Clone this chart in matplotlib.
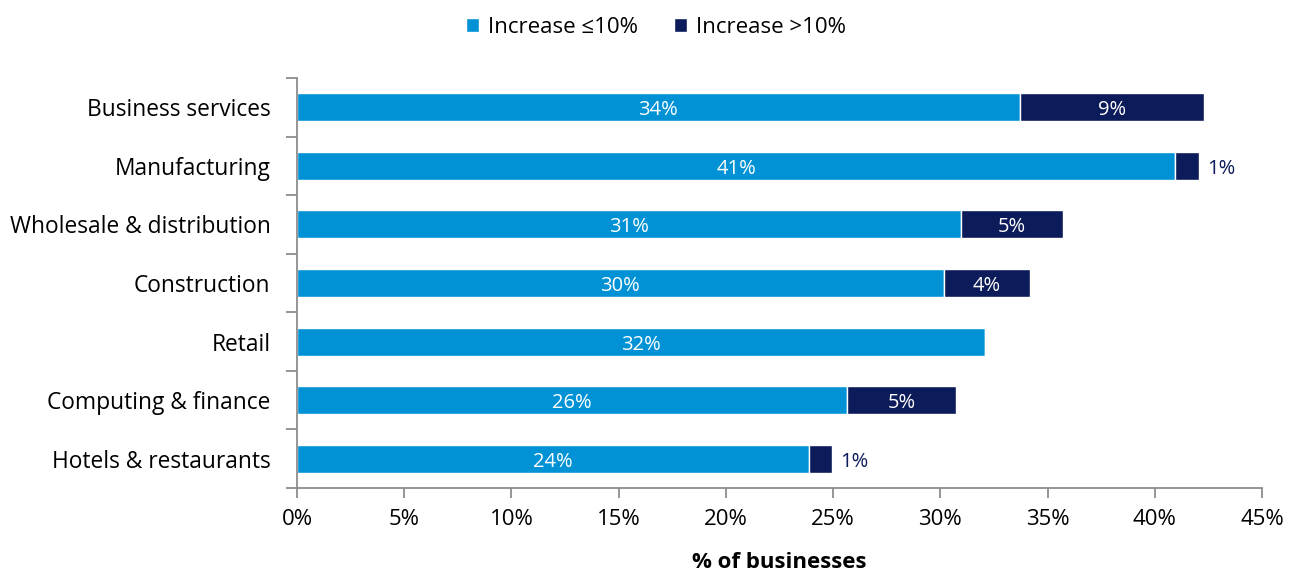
import numpy as np
import matplotlib.pyplot as plt
from matplotlib.ticker import FuncFormatter, FixedLocator

plt.rcParams['font.family'] = ['Open Sans', 'DejaVu Sans']

sectors = ['Business services', 'Manufacturing', 'Wholesale & distribution',
           'Construction', 'Retail', 'Computing & finance', 'Hotels & restaurants']
low_rise = [33.7, 40.95, 30.95, 30.15, 32.1, 25.65, 23.9]   # increase <=10%
high_rise = [8.6, 1.1, 4.75, 4.05, 0.0, 5.1, 1.05]          # increase >10%

light = '#0092D5'
navy = '#0C1B5A'
grey = '#8C8C8C'

fig = plt.figure(figsize=(12.99, 5.74), dpi=100)
ax = fig.add_axes([0.2286, 0.1498, 0.7429, 0.7143])

y = np.arange(len(sectors))
h = 0.48
b1 = ax.barh(y, low_rise, height=h, color=light, edgecolor='white', linewidth=1,
             label='Increase \u226410%')
b2 = ax.barh(y, high_rise, height=h, left=low_rise, color=navy, edgecolor='white',
             linewidth=1, label='Increase >10%')

# value labels: inside the segment, or just past the bar end when it is too thin
for i in range(len(sectors)):
    ty = y[i] + 0.05
    ax.text(low_rise[i] / 2, ty, f'{round(low_rise[i]):.0f}%', color='white',
            ha='center', va='center', fontsize=14.5)
    if high_rise[i] <= 0:
        continue
    if high_rise[i] < 2:
        ax.text(low_rise[i] + high_rise[i] + 0.4, ty, f'{round(high_rise[i]):.0f}%',
                color=navy, ha='left', va='center', fontsize=14.5)
    else:
        ax.text(low_rise[i] + high_rise[i] / 2, ty, f'{round(high_rise[i]):.0f}%',
                color='white', ha='center', va='center', fontsize=14.5)

ax.set_xlim(0, 45)
ax.set_ylim(len(sectors) - 0.5, -0.5)
ax.set_xticks(np.arange(0, 46, 5))
ax.xaxis.set_major_formatter(FuncFormatter(lambda v, p: f'{v:.0f}%'))
ax.set_yticks(y)
ax.set_yticklabels(sectors)
ax.yaxis.set_minor_locator(FixedLocator(np.arange(-0.5, len(sectors), 1)))
ax.tick_params(axis='y', which='major', length=0, pad=19, labelsize=16.4)
ax.tick_params(axis='y', which='minor', length=8, color=grey, width=1.3)
ax.tick_params(axis='x', length=7, color=grey, width=1.3, labelsize=16, pad=8)

for s in ['top', 'right']:
    ax.spines[s].set_visible(False)
for s in ['left', 'bottom']:
    ax.spines[s].set_color(grey)
    ax.spines[s].set_linewidth(1.3)

ax.set_xlabel('% of businesses', fontsize=16, fontweight='bold', labelpad=16)

fig.legend(handles=[b1, b2], loc='upper center', bbox_to_anchor=(0.505, 1.005),
           ncol=2, frameon=False, fontsize=16, handlelength=0.6, handleheight=0.6,
           handletextpad=0.4, columnspacing=1.6)

fig.savefig('out.png', dpi=100)
